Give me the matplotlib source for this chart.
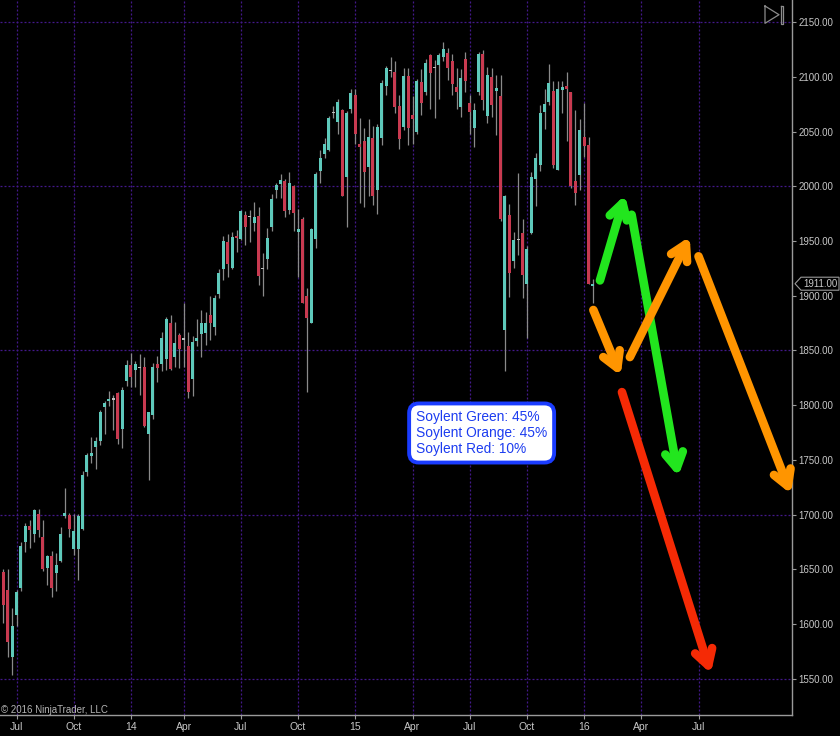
import matplotlib
matplotlib.use("Agg")
import matplotlib.pyplot as plt
from matplotlib.patches import Polygon
from matplotlib.lines import Line2D

# ---------------- data (weekly bars) ----------------
opens = [1648,1631,1570,1608,1633,1675,1690,1682,1701,1680,1651,1662,1647,1658,1699,1700,1669,1669,1687,1739,
         1754,1762,1767,1798,1804,1805,1811,1778,1822,1837,1832,1834.5,1835,1774,1791,1838,1838,1842,1875,1844,
         1864,1861,1854,1824,1859,1865,1866,1882,1871,1902,1924,1949,1925,1955,1952,1974,1973,1966,1973,1924,
         1934,1963,1997,2002,2005,1978,2000,1958,1970,1900,1875,1952,2014,2029,2033,2068,2059,2070,2008,2071,
         2083,2039,2041,2018,2044,1997,2044,2092,2106,2104,2073,2054,2101,2065,2050,2095,2086,2120,2109,2111,
         2118,2122,2114,2091,2072,2116,2076,2053,2086,2121,2064,2100,2087,2082,1869,1974,1932,1952,1957,1911,
         1957,2007,2019,2068,2077,2087,2015,2088,2092,2086,2005,2010,2045,2038,1909]
highs = [1650,1650,1615,1631,1675,1692,1695,1705,1705,1695,1663,1667,1665,1689,1724,1702,1701,1701,1740,1756,
         1771,1771,1796,1804,1813,1809,1812,1817,1841,1848,1840,1847,1844,1794,1839,1845,1867,1881,1882,1876,
         1866,1893,1867,1863,1879,1887,1885,1900,1901,1924,1955,1956,1958,1960,1978,1977,1978,1986,1981,1939,
         1962,1993,2003,2011,2007,2013,2001,1979,1972,1907,1962,2013,2033,2044,2064,2073,2080,2071,2069,2089,
         2089,2062,2053,2061,2055,2057,2097,2110,2118,2114,2083,2108,2108,2082,2098,2107,2116,2121,2115,2122,
         2132,2126,2121,2108,2107,2123,2083,2076,2123,2124,2109,2108,2102,2102,1992,1984,1958,2012,1970,1945,
         2013,2030,2074,2089,2112,2096,2096,2096,2104,2086,2070,2061,2076,2045,1915]
lows = [1601,1570,1554,1598,1630,1666,1670,1675,1680,1649,1636,1625,1630,1657,1697,1680,1663,1640,1686,1735,
        1747,1742,1764,1774,1799,1777,1765,1761,1818,1817,1817,1809,1780,1732,1787,1821,1831,1832,1832,1835,
        1834,1835,1807,1808,1854,1844,1855,1860,1864,1898,1914,1917,1924,1940,1951,1946,1949,1959,1910,1900,
        1924,1959,1989,1989,1972,1975,1959,1917,1893,1812,1875,1944,2003,2026,2032,2062,2048,1991,1963,2067,
        2039,1985,1981,1991,1983,1975,2038,2083,2100,2067,2034,2051,2038,2039,2048,2065,2083,2071,2062,2080,
        2114,2097,2083,2071,2063,2086,2048,2036,2083,2070,2058,2063,2047,1968,1831,1899,1925,1937,1898,1861,
        1956,1982,2014,2052,2074,2017,2015,2067,2041,1998,1983,1997,2027,1911,1893]
closes = [1618,1584,1598,1629,1671,1690,1686,1704,1686,1650,1662,1633,1654,1682,1702,1687,1685,1699,1736,1755,
          1756,1767,1794,1802,1806,1806,1769,1814,1837,1826,1838,1834,1781,1794,1835,1834,1861,1879,1833,1857,
          1851,1860,1812,1858,1861,1875,1875,1875,1898,1921,1950,1929,1954,1953,1977,1963,1972,1972,1918,1925,
          1953,1988,2001,2006,1977,2003,1976,1961,1893,1880,1961,2011,2026,2039,2062,2067,2077,1991,2067,2085,
          2048,2036,2013,2045,1991,2054,2094,2108,2105,2072,2043,2101,2053,2061,2096,2076,2113,2103,2108,2120,
          2125,2108,2093,2086,2099,2096,2068,2070,2121,2079,2102,2074,2090,1970,1991,1921,1951,1951,1919,1943,
          2008,2026,2067,2075,2094,2019,2089,2091,2089,2000,1994,2051,2037,1911,1911]

# quarter grid positions (bar index) and labels, future bars included
tick_idx = [3, 16, 29, 41, 54, 67, 80, 93, 106, 119, 132, 145, 158]
tick_labels = ["Jul", "Oct", "14", "Apr", "Jul", "Oct", "15", "Apr", "Jul", "Oct", "16", "Apr", "Jul"]
price_ticks = list(range(1550, 2151, 50))
grid_prices = [1550, 1700, 1850, 2000, 2150]
last_price = 1911.00

# scenario arrows: (start_idx, start_price, end_idx, end_price, color)
arrow_start_idx = [135.6, 142.8, 134.1, 142.4, 158.0, 140.6]
arrow_start_px = [1914, 1974, 1887, 1844, 1936, 1812]
arrow_end_idx = [141.3, 153.4, 140.3, 156.0, 179.0, 160.8]
arrow_end_px = [1992, 1735, 1827, 1954, 1719, 1555]
arrow_colors = ["#22e61e", "#22e61e", "#ff9500", "#ff9500", "#ff9500", "#f52a05"]

box_text = "Soylent Green: 45%\nSoylent Orange: 45%\nSoylent Red: 10%"

# ---------------- style ----------------
plt.rcParams['font.family'] = ['Liberation Sans', 'DejaVu Sans']
UP = "#5ec9bb"
DOWN = "#c83a50"
WICK = "#8a8a8a"
GRID = "#43188a"
AXC = "#9a9a9a"
TXT = "#c8c8c8"

W, H = 840, 736
fig = plt.figure(figsize=(W / 100, H / 100), dpi=100, facecolor="black")
ax = fig.add_axes([0, 21 / H, 792 / W, 715 / H], facecolor="black")
ax.set_xlim(-0.75, 179.25)
ax.set_ylim(1517.1, 2170.1)

# grid
for t in tick_idx:
    ax.axvline(t, color=GRID, lw=0.9, ls=(0, (1.6, 1.6)), zorder=0)
for p in grid_prices:
    ax.axhline(p, color=GRID, lw=0.9, ls=(0, (1.6, 1.6)), zorder=0)

# candles
n = len(closes)
for i in range(n):
    o, h, l, c = opens[i], highs[i], lows[i], closes[i]
    col = UP if c >= o else DOWN
    if abs(c - o) < 1.2:
        col = "#bdbdbd"
    ax.plot([i, i], [l, h], color=WICK, lw=0.9, zorder=2, solid_capstyle="butt")
    bottom = min(o, c)
    height = max(abs(c - o), 1.2)
    ax.bar(i, height, bottom=bottom, width=0.72, color=col, edgecolor="none", zorder=3)

# arrows
for sx, sy, ex, ey, col in zip(arrow_start_idx, arrow_start_px, arrow_end_idx, arrow_end_px, arrow_colors):
    ax.annotate("", xy=(ex, ey), xytext=(sx, sy),
                arrowprops=dict(arrowstyle="->,head_length=0.55,head_width=0.32", lw=6.2, color=col,
                                shrinkA=0, shrinkB=0, mutation_scale=20,
                                capstyle="round", joinstyle="round"), zorder=5)

# axes styling
for s in ["top", "left"]:
    ax.spines[s].set_visible(False)
for s in ["right", "bottom"]:
    ax.spines[s].set_color(AXC)
    ax.spines[s].set_linewidth(1.0)
ax.yaxis.tick_right()
ax.set_yticks(price_ticks)
ax.set_yticklabels([f"{v:.2f}" for v in price_ticks])
ax.set_xticks(tick_idx)
ax.set_xticklabels(tick_labels)
ax.tick_params(axis="y", colors=AXC, labelcolor=TXT, labelsize=7, length=3, width=0.8, pad=1.5)
ax.tick_params(axis="x", colors=AXC, labelcolor=TXT, labelsize=7.5, length=3, width=0.8, pad=2)

# current price marker
fig.canvas.draw()
_, ypix = ax.transData.transform((0, last_price))
yf = ypix / H
def fx(px):
    return px / W
hh = 6.5 / H
marker = Polygon([(fx(795), yf), (fx(801), yf + hh), (fx(839), yf + hh), (fx(839), yf - hh), (fx(801), yf - hh)],
                 closed=True, transform=fig.transFigure, facecolor="black", edgecolor=AXC, lw=0.8, zorder=1)
fig.patches.append(marker)
fig.text(fx(820), yf, f"{last_price:.2f}", color=TXT, fontsize=7, ha="center", va="center", zorder=20)

# top-right icon (play-to-end)
def fy(py):
    return 1 - py / H
fig.lines.append(Line2D([fx(765), fx(779), fx(765), fx(765)], [fy(6), fy(14.7), fy(23.3), fy(6)],
                        transform=fig.transFigure, color="#8c8c8c", lw=0.9))
fig.lines.append(Line2D([fx(780.7), fx(783.3), fx(783.3), fx(780.7), fx(780.7)],
                        [fy(6), fy(6), fy(24.3), fy(24.3), fy(6)],
                        transform=fig.transFigure, color="#8c8c8c", lw=0.9))

# copyright
fig.text(fx(1), fy(710), "\u00a9 2016 NinjaTrader, LLC", color="#b4b4b4", fontsize=7, ha="left", va="center")

# text box
fig.text(fx(416), fy(433), box_text, color="#1c3cf0", fontsize=9.9, ha="left", va="center", linespacing=1.15,
         bbox=dict(boxstyle="round,pad=0.5,rounding_size=0.7", fc="white", ec="#1a3cff", lw=2.8))

fig.savefig("out.png", dpi=100, facecolor="black")
